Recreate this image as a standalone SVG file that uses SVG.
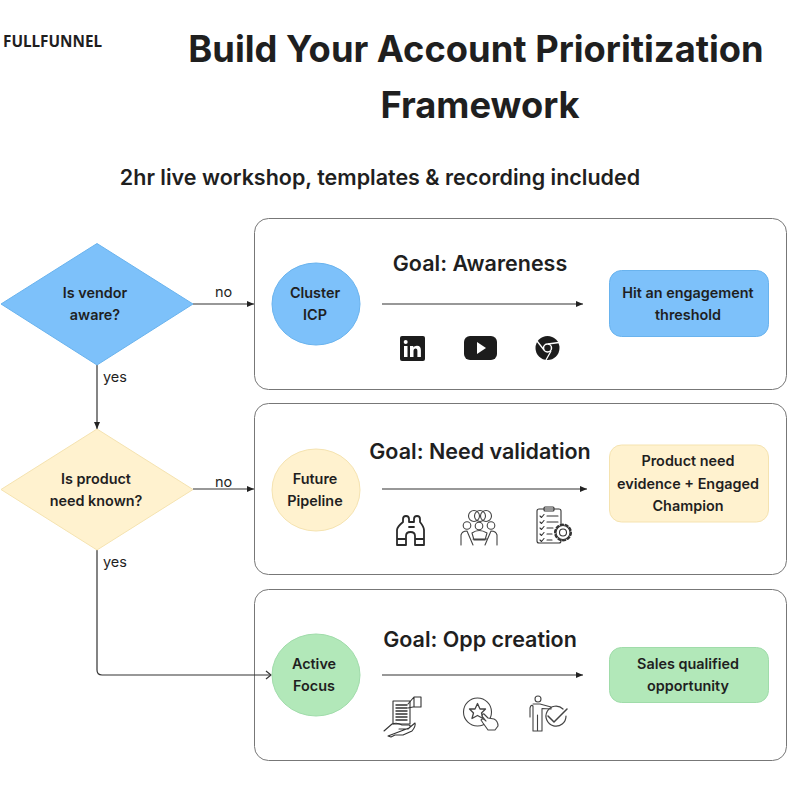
<svg xmlns="http://www.w3.org/2000/svg" width="800" height="800" viewBox="0 0 800 800">
<style>
text{font-family:Inter,"Liberation Sans",sans-serif;fill:#1f1f1f;text-anchor:middle}
.title{font-size:36.300px;font-weight:700}
.sub{font-size:21.500px;font-weight:600}
.goal{font-size:21.500px;font-weight:600}
.n{font-size:14.400px;font-weight:600}
.l{font-size:14.500px;font-weight:400;text-anchor:start}
.panel{fill:#fff;stroke:#777;stroke-width:1}
.c{fill:none;stroke:#333;stroke-width:1.200}
.blue{fill:#7dc1fa;stroke:#69b3ee}
.yel{fill:#fff2cf;stroke:#f5e3b0}
.grn{fill:#b2e8b9;stroke:#a0dcaa}
.ic{fill:none;stroke:#2a2a2a;stroke-width:1.800;stroke-linejoin:round;stroke-linecap:round}
.thin{fill:none;stroke:#444;stroke-width:1.100;stroke-linejoin:round;stroke-linecap:round}
.blk{fill:#1c1c1c}
</style>
<defs>
<marker id="a" viewBox="0 0 8 8" refX="7" refY="4" markerWidth="8" markerHeight="8" markerUnits="userSpaceOnUse" orient="auto"><path d="M0 1 L7 4 L0 7z" fill="#222"/></marker>
<marker id="o" viewBox="0 0 8 10" refX="7" refY="5" markerWidth="8" markerHeight="10" markerUnits="userSpaceOnUse" orient="auto"><path d="M2 1 L7 5 L2 9" fill="none" stroke="#333" stroke-width="1.200"/></marker>
</defs>
<rect width="800" height="800" fill="#fff"/>
<text x="3" y="47" style="font-size:15.300px;font-weight:700;text-anchor:start;font-family:'Noto Sans',sans-serif">FULLFUNNEL</text>
<text class="title" x="476" y="62">Build Your Account Prioritization</text>
<text class="title" x="480" y="118">Framework</text>
<text class="sub" x="380" y="185">2hr live workshop, templates &amp; recording included</text>

<g id="panel1"><rect class="panel" x="254.500" y="218.500" width="532" height="171" rx="14"/><text class="goal" x="480" y="271">Goal: Awareness</text></g>
<g id="panel2"><rect class="panel" x="254.500" y="403.500" width="532" height="171" rx="14"/><text class="goal" x="480" y="459">Goal: Need validation</text></g>
<g id="panel3"><rect class="panel" x="254.500" y="589.500" width="532" height="171" rx="14"/><text class="goal" x="480" y="647">Goal: Opp creation</text></g>

<g id="connectors">
<path class="c" d="M193 304H254" marker-end="url(#a)"/>
<path class="c" d="M193 489H254" marker-end="url(#a)"/>
<path class="c" d="M97 365V429" marker-end="url(#a)"/>
<path class="c" d="M97 550V670Q97 675 102 675H271" marker-end="url(#o)"/>
<path class="c" d="M382 304H583" marker-end="url(#a)"/>
<path class="c" d="M382 489H587" marker-end="url(#a)"/>
<path class="c" d="M382 675H583" marker-end="url(#a)"/>
<text class="l" x="215" y="297">no</text>
<text class="l" x="215" y="487">no</text>
<text class="l" x="103" y="382">yes</text>
<text class="l" x="103" y="567">yes</text>
</g>

<g id="d1"><path class="blue" d="M97 243.500L193 304L97 365L1 304z"/><text class="n" x="95" y="298">Is vendor</text><text class="n" x="95" y="320">aware?</text></g>
<g id="d2"><path class="yel" d="M97 429L193 489.500L97 550L1 489.500z"/><text class="n" x="96" y="484">Is product</text><text class="n" x="96" y="506">need known?</text></g>
<g id="c1"><ellipse class="blue" cx="316" cy="304" rx="44" ry="41"/><text class="n" x="315" y="298">Cluster</text><text class="n" x="315" y="320">ICP</text></g>
<g id="c2"><ellipse class="yel" cx="316" cy="490" rx="44" ry="41"/><text class="n" x="315" y="484">Future</text><text class="n" x="315" y="506">Pipeline</text></g>
<g id="c3"><ellipse class="grn" cx="316" cy="675" rx="44" ry="41"/><text class="n" x="314" y="669">Active</text><text class="n" x="314" y="691">Focus</text></g>
<g id="r1"><rect class="blue" x="609.500" y="270.500" width="159" height="66" rx="12"/><text class="n" x="688" y="298">Hit an engagement</text><text class="n" x="688" y="320">threshold</text></g>
<g id="r2"><rect class="yel" x="609.500" y="445" width="159" height="77" rx="12"/><text class="n" x="688" y="466">Product need</text><text class="n" x="688" y="489">evidence + Engaged</text><text class="n" x="688" y="511">Champion</text></g>
<g id="r3"><rect class="grn" x="609.500" y="647.500" width="159" height="55" rx="12"/><text class="n" x="688" y="669">Sales qualified</text><text class="n" x="688" y="691">opportunity</text></g>

<g id="icon-linkedin"><rect class="blk" x="400" y="336" width="25" height="25" rx="2"/><g fill="#fff"><rect x="404" y="346" width="3.500" height="11"/><circle cx="405.700" cy="342" r="2"/><path d="M410 346h3.300v1.600c.7-1.200 2-1.900 3.600-1.900 3 0 4 1.900 4 4.700V357h-3.500v-5.800c0-1.600-.5-2.600-1.800-2.600s-2.100 1-2.100 2.600V357H410z"/></g></g>
<g id="icon-youtube"><rect class="blk" x="464" y="336" width="33" height="24" rx="6"/><path d="M477 342L486 348L477 354z" fill="#fff"/></g>
<g id="icon-chrome"><circle class="blk" cx="547.500" cy="348" r="12"/><circle cx="547.500" cy="348" r="4" fill="none" stroke="#fff" stroke-width="1.500"/><path d="M548 344L559 342.500M544 350L537 341M551 351L546 360" stroke="#fff" stroke-width="1.300" fill="none"/></g>

<g id="icon-binoculars" class="ic"><path d="M397 530Q397 527 403 522V519Q403 516 406 516Q409 516 409 519V522H414V519Q414 516 417 516Q420 516 420 519V522Q424 527 424 530V545H415V536Q415 532 410.500 532Q406 532 406 536V545H397zM397 539H406M415 539H424M409 527H414"/></g>
<g id="icon-meeting" class="thin"><circle cx="474" cy="516" r="5.500"/><circle cx="480" cy="516" r="5.500"/><circle cx="486" cy="516" r="5.500"/><circle cx="467" cy="525.500" r="3.800" fill="#fff"/><circle cx="479" cy="526" r="3.800" fill="#fff"/><circle cx="491" cy="525.500" r="3.800" fill="#fff"/><path d="M461 545V535Q462 531 467 531L473 545M473 539L487 539M497 545V535Q496 531 491 531L485 545M472 533Q479 528 487 533L485 540H474z"/></g>
<g id="icon-checklist" class="thin" style="stroke:#333"><rect x="537" y="509" width="24" height="34" rx="2"/><rect x="544" y="507" width="10" height="4" rx="1"/><path d="M540 516l1.500 1.500 2.500-3M540 522l1.500 1.500 2.500-3M540 528l1.500 1.500 2.500-3M540 534l1.500 1.500 2.500-3M540 540l1.500 1.500 2.500-3M547 516h11M547 522h11M547 528h6M547 534h5M547 540h5"/><circle cx="563" cy="532.500" r="7" fill="#fff"/><circle cx="563" cy="532.500" r="3.500"/><circle cx="563" cy="532.500" r="8" stroke-dasharray="2.500 2.500" stroke-width="2"/></g>

<g id="icon-hand" class="thin" style="stroke:#333"><rect x="393" y="701" width="17" height="23" fill="#fff"/><path d="M396 705h11M396 708h11M396 711h11M396 714h11M396 717h11M396 720h11" stroke-width="1.400"/><path d="M408 704L414 697H421V707H413L408 708M414 697V707"/><path d="M384 731L392 724Q397 722 402 725H409Q412 726 408 729H399M409 728L415 723Q416 726 412 731L403 735H395L391 737L388 736z"/></g>
<g id="icon-star" class="thin"><circle cx="477.500" cy="712" r="14"/><path d="M477.500 703.500L480 709H485.500L481.500 713L483 718.500L477.500 715.500L472 718.500L473.500 713L469.500 709H475z" stroke-width="1.300"/><path d="M484 714L488 718L494 719Q498 721 498 726L495 730H488L483 723L481 720Q482 718 485 720L486 721L482 716Q483 713 484 714z" fill="#fff"/></g>
<g id="icon-person" class="thin"><circle cx="538" cy="699" r="3"/><path d="M533 731V706Q531 704 530 708V717M533 704H540L551 707V709L542 708.500V731M537.500 715V731M533 731H537.500M537.500 731H542"/><path d="M563 709A10 10 0 1 0 566 716" stroke-width="1.200"/><path d="M548 716L554 722L567 709" stroke-width="1.500"/></g>
</svg>
